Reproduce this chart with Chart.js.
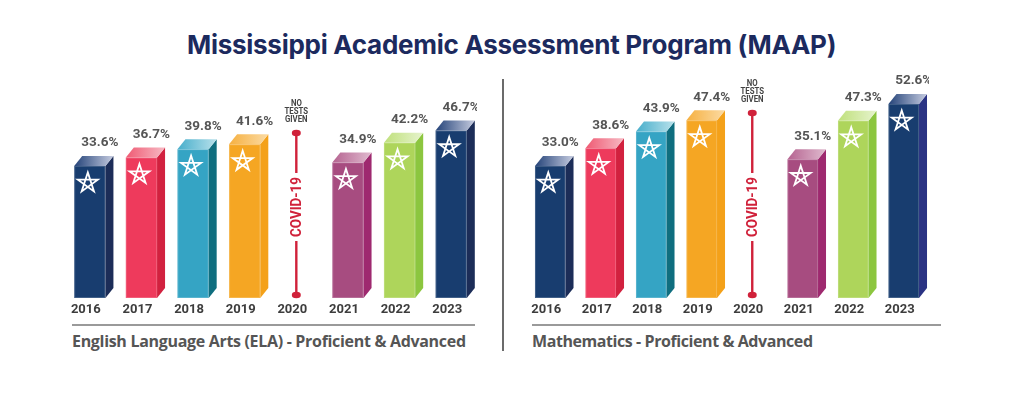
<!DOCTYPE html>
<html><head><meta charset="utf-8">
<script src="https://cdn.jsdelivr.net/npm/chart.js@4/dist/chart.umd.min.js"></script>
<style>
html,body{margin:0;padding:0;background:#fff;}
body{width:1024px;height:401px;position:relative;overflow:hidden;}
#title{position:absolute;left:0;top:27px;white-space:nowrap;font:700 26px Inter,sans-serif;color:#1c2a5e;line-height:36px;}
.rule{position:absolute;top:324px;height:1.5px;background:#9a9a9a;}
.sub{position:absolute;top:330px;white-space:nowrap;font:700 16px "Open Sans",sans-serif;color:#555555;line-height:22px;}
#divider{position:absolute;left:502px;top:79px;width:2px;height:272px;background:#6b6b6b;}
canvas{position:absolute;}
</style></head><body>
<div id="title"></div>
<div class="rule" style="left:72px;width:403px"></div>
<div class="rule" style="left:532px;width:409px"></div>
<div class="sub" id="subL" style="left:72px"></div>
<div class="sub" id="subR" style="left:532px"></div>
<div id="divider"></div>
<canvas id="ela" width="413" height="260" style="left:64px;top:60px;width:413px;height:260px"></canvas>
<canvas id="math" width="404" height="260" style="left:525px;top:60px;width:404px;height:260px"></canvas>
<script>
// ---- data ----
const chartTitle = 'Mississippi Academic Assessment Program (MAAP)';
const years = ['2016','2017','2018','2019','2020','2021','2022','2023'];
const elaValues  = [33.6, 36.7, 39.8, 41.6, null, 34.9, 42.2, 46.7];
const mathValues = [33.0, 38.6, 43.9, 47.4, null, 35.1, 47.3, 52.6];
const elaTitle  = 'English Language Arts (ELA) - Proficient & Advanced';
const mathTitle = 'Mathematics - Proficient & Advanced';
const noTestYear = '2020';
const noTestLines = ['NO','TESTS','GIVEN'];
const covidLabel = 'COVID-19';

// ---- styles ----
const pal = {
  navy:   {front:'#183d6f', side:'#1c2d58', topL:'#244379', topR:'#c6cce0'},
  red:    {front:'#ee3a5c', side:'#d2213f', topL:'#ef5a73', topR:'#f7bac4'},
  teal:   {front:'#35a4c4', side:'#0f6e7f', topL:'#47aecb', topR:'#b8e1eb'},
  orange: {front:'#f5a623', side:'#f4a119', topL:'#f6b040', topR:'#fbdba4'},
  none:   {front:'#fff', side:'#fff', topL:'#fff', topR:'#fff'},
  purple: {front:'#a74c80', side:'#9e296f', topL:'#b56390', topR:'#e0bbcf'},
  green:  {front:'#aed55b', side:'#8cc63f', topL:'#bfe07b', topR:'#e6f3cd'},
  navy2:  {front:'#183d6f', side:'#2a3383', topL:'#244379', topR:'#c6cce0'}
};
const elaColors  = [pal.navy,pal.red,pal.teal,pal.orange,pal.none,pal.purple,pal.green,pal.navy];
const mathColors = [pal.navy,pal.red,pal.teal,pal.orange,pal.none,pal.purple,pal.green,pal.navy2];

function starPath(ctx, cx, cy, r){
  ctx.beginPath();
  for(let k=0;k<=5;k++){
    const a = -Math.PI/2 + k*4*Math.PI/5;
    const px = cx + r*Math.cos(a), py = cy + r*Math.sin(a);
    if(k===0) ctx.moveTo(px,py); else ctx.lineTo(px,py);
  }
  ctx.closePath();
}

const bar3d = {
  id:'bar3d',
  afterDatasetsDraw(chart, args, opts){
    const ctx = chart.ctx;
    const meta = chart.getDatasetMeta(0);
    const data = chart.data.datasets[0].data;
    const dx = opts.dx, dy = opts.dy;
    meta.data.forEach((el,i)=>{
      if(data[i]==null) return;
      const {x,y,base,width} = el.getProps(['x','y','base','width'],true);
      const L = x-width/2, R = x+width/2;
      const c = opts.colors[i];
      ctx.save();
      ctx.fillStyle = c.side;
      ctx.beginPath();
      ctx.moveTo(R,y); ctx.lineTo(R+dx,y-dy); ctx.lineTo(R+dx,base-dy); ctx.lineTo(R,base); ctx.closePath(); ctx.fill();
      const g = ctx.createLinearGradient(L,0,R+dx,0);
      g.addColorStop(0,c.topL); g.addColorStop(1,c.topR);
      ctx.fillStyle = g;
      ctx.beginPath();
      ctx.moveTo(L,y); ctx.lineTo(L+dx,y-dy); ctx.lineTo(R+dx,y-dy); ctx.lineTo(R,y); ctx.closePath(); ctx.fill();
      ctx.strokeStyle = 'rgba(255,255,255,0.18)'; ctx.lineWidth = 1;
      ctx.strokeRect(L+0.5,y+0.5,width-1,base-y-1);
      ctx.strokeStyle = '#ffffff'; ctx.lineWidth = 1.8; ctx.lineJoin='miter';
      starPath(ctx, x-2, y+17, 10.5); ctx.stroke();
      ctx.fillStyle = '#555555';
      ctx.font = '700 13.5px Roboto, sans-serif';
      ctx.textAlign = 'center'; ctx.textBaseline = 'middle';
      ctx.fillText(data[i].toFixed(1)+'%', x+10, y-23);
      ctx.restore();
    });
  }
};

const covid = {
  id:'covid',
  afterDatasetsDraw(chart, args, opts){
    const ctx = chart.ctx;
    const idx = chart.data.labels.indexOf(noTestYear);
    const x = chart.scales.x.getPixelForValue(idx);
    const top = opts.top, bottom = opts.bottom, ty = opts.textY;
    const red = '#d0213a';
    ctx.save();
    ctx.strokeStyle = red; ctx.lineWidth = 2.4;
    ctx.beginPath(); ctx.moveTo(x,top); ctx.lineTo(x,bottom); ctx.stroke();
    ctx.fillStyle = red;
    ctx.beginPath(); ctx.ellipse(x,top,4.5,3.2,0,0,Math.PI*2); ctx.fill();
    ctx.beginPath(); ctx.ellipse(x,bottom,4.5,3.2,0,0,Math.PI*2); ctx.fill();
    ctx.font = '700 15px Roboto, sans-serif';
    const w = ctx.measureText(covidLabel).width;
    const sx = 60/w;
    ctx.fillStyle = '#fff';
    ctx.fillRect(x-7, ty-34, 14, 68);
    ctx.translate(x, ty); ctx.rotate(-Math.PI/2); ctx.scale(sx,1);
    ctx.fillStyle = red; ctx.textAlign='center'; ctx.textBaseline='middle';
    ctx.fillText(covidLabel, 0, 1);
    ctx.restore();
    ctx.save();
    ctx.fillStyle = '#444444';
    ctx.font = '700 9.5px Roboto, sans-serif';
    ctx.textAlign='center'; ctx.textBaseline='middle';
    noTestLines.forEach((t,k)=>{
      ctx.save();
      ctx.translate(x, top - 29 + k*7.7);
      ctx.scale(0.82,1);
      ctx.fillText(t,0,0);
      ctx.restore();
    });
    ctx.restore();
  }
};

function makeChart(id, values, colors, yMin, yMax, covidTop){
  return new Chart(document.getElementById(id), {
    type:'bar',
    data:{ labels: years, datasets:[{
      data: values,
      base: yMin,
      backgroundColor: colors.map(c=>c.front),
      borderWidth:0,
      barPercentage:0.605,
      categoryPercentage:1
    }]},
    options:{
      responsive:false, animation:false,
      layout:{padding:0},
      plugins:{
        legend:{display:false}, tooltip:{enabled:false}, title:{display:false},
        bar3d:{colors, dx:8, dy:10},
        covid:{top:covidTop, bottom:295-60, textY:207-60}
      },
      scales:{
        y:{display:false, min:yMin, max:yMax},
        x:{
          grid:{display:false, drawTicks:false}, border:{display:false},
          afterFit:(s)=>{ s.height = 22; },
          ticks:{color:'#3d3d3d', font:{family:'Roboto', weight:'700', size:13}, padding:4, labelOffset:-4, maxRotation:0, autoSkip:false}
        }
      }
    },
    plugins:[bar3d, covid]
  });
}

document.getElementById('title').textContent = chartTitle;
document.getElementById('subL').textContent = elaTitle;
document.getElementById('subR').textContent = mathTitle;

function fitText(el, target, left){
  el.style.letterSpacing = '0px';
  const w = el.getBoundingClientRect().width;
  const n = el.textContent.length;
  el.style.letterSpacing = ((target - w)/(n-1)) + 'px';
  if(left!=null) el.style.left = left + 'px';
}

function build(){
  fitText(document.getElementById('title'), 649, 187);
  fitText(document.getElementById('subL'), 394);
  fitText(document.getElementById('subR'), 281);
  makeChart('ela', elaValues, elaColors, -15.3, 72.8, 133-60);
  makeChart('math', mathValues, mathColors, -8.8, 66.5, 113-60);
}
if(document.fonts && document.fonts.load){
  Promise.all([document.fonts.load('700 26px Inter'),document.fonts.load('700 16px "Open Sans"'),document.fonts.load('700 13px Roboto')]).then(build, build);
} else build();
</script>
</body></html>
